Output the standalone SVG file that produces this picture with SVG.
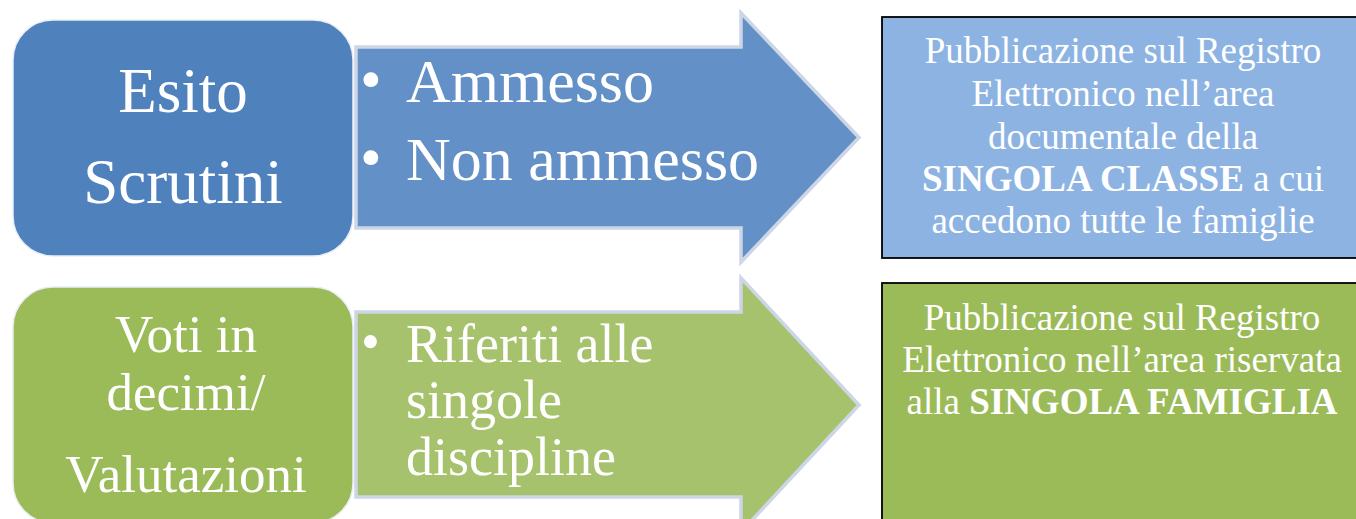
<svg xmlns="http://www.w3.org/2000/svg" width="1356" height="519" viewBox="0 0 1356 519">
<style>
.t{font-family:'Liberation Serif','Tinos','DejaVu Serif',serif;fill:#fff}
.c{text-anchor:middle}
.b{font-weight:bold}
.arrow{stroke:#CCD6E6;stroke-width:3.5;stroke-linejoin:miter}
.node{stroke:#E8EEF6;stroke-width:1.5}
.box{stroke:#000;stroke-width:1.8}
</style>
<rect width="1356" height="519" fill="#fff"/>
<g id="connectors">
<g id="arrow-top">
<path class="arrow" fill="#6290C7" d="M356,47 L741,47 L741,13 L859,137.5 L741,262 L741,228 L356,228 Z"/>
<text class="t" font-size="62"><tspan x="360" y="100">•</tspan><tspan x="406" y="102">Ammesso</tspan></text>
<text class="t" font-size="62"><tspan x="360" y="178">•</tspan><tspan x="406" y="180">Non ammesso</tspan></text>
</g>
<g id="arrow-bottom">
<path class="arrow" fill="#A6C26D" d="M356,312 L741,312 L741,278 L859,405 L741,532 L741,497 L356,497 Z"/>
<text class="t" font-size="54"><tspan x="361" y="360">•</tspan><tspan x="406" y="362">Riferiti alle</tspan></text>
<text class="t" font-size="54" x="406" y="418">singole</text>
<text class="t" font-size="54" x="406" y="475">discipline</text>
</g>
</g>
<g id="node-esito">
<rect class="node" x="13" y="20" width="340" height="236" rx="40" fill="#4F81BD"/>
<text class="t c" font-size="63" x="183" y="112">Esito</text>
<text class="t c" font-size="63" x="183" y="203">Scrutini</text>
</g>
<g id="node-voti">
<rect class="node" x="13" y="287" width="340" height="236" rx="40" fill="#9BBB59"/>
<text class="t c" font-size="53" x="186" y="352">Voti in</text>
<text class="t c" font-size="53" x="186" y="410">decimi/</text>
<text class="t c" font-size="53" x="186" y="492">Valutazioni</text>
</g>
<g id="node-classe">
<rect class="box" x="882" y="17" width="484" height="241" fill="#8DB3E2"/>
<text class="t c" font-size="37" x="1123" y="63">Pubblicazione sul Registro</text>
<text class="t c" font-size="37" x="1123" y="106">Elettronico nell’area</text>
<text class="t c" font-size="37" x="1123" y="149">documentale della</text>
<text class="t c" font-size="37" x="1123" y="191"><tspan class="b">SINGOLA CLASSE</tspan> a cui</text>
<text class="t c" font-size="37" x="1123" y="233">accedono tutte le famiglie</text>
</g>
<g id="node-famiglia">
<rect class="box" x="882" y="283" width="484" height="250" fill="#9BBB59"/>
<text class="t c" font-size="37" x="1122" y="330">Pubblicazione sul Registro</text>
<text class="t c" font-size="37" x="1122" y="372">Elettronico nell’area riservata</text>
<text class="t c" font-size="37" x="1122" y="414">alla <tspan class="b">SINGOLA FAMIGLIA</tspan></text>
</g>
</svg>
